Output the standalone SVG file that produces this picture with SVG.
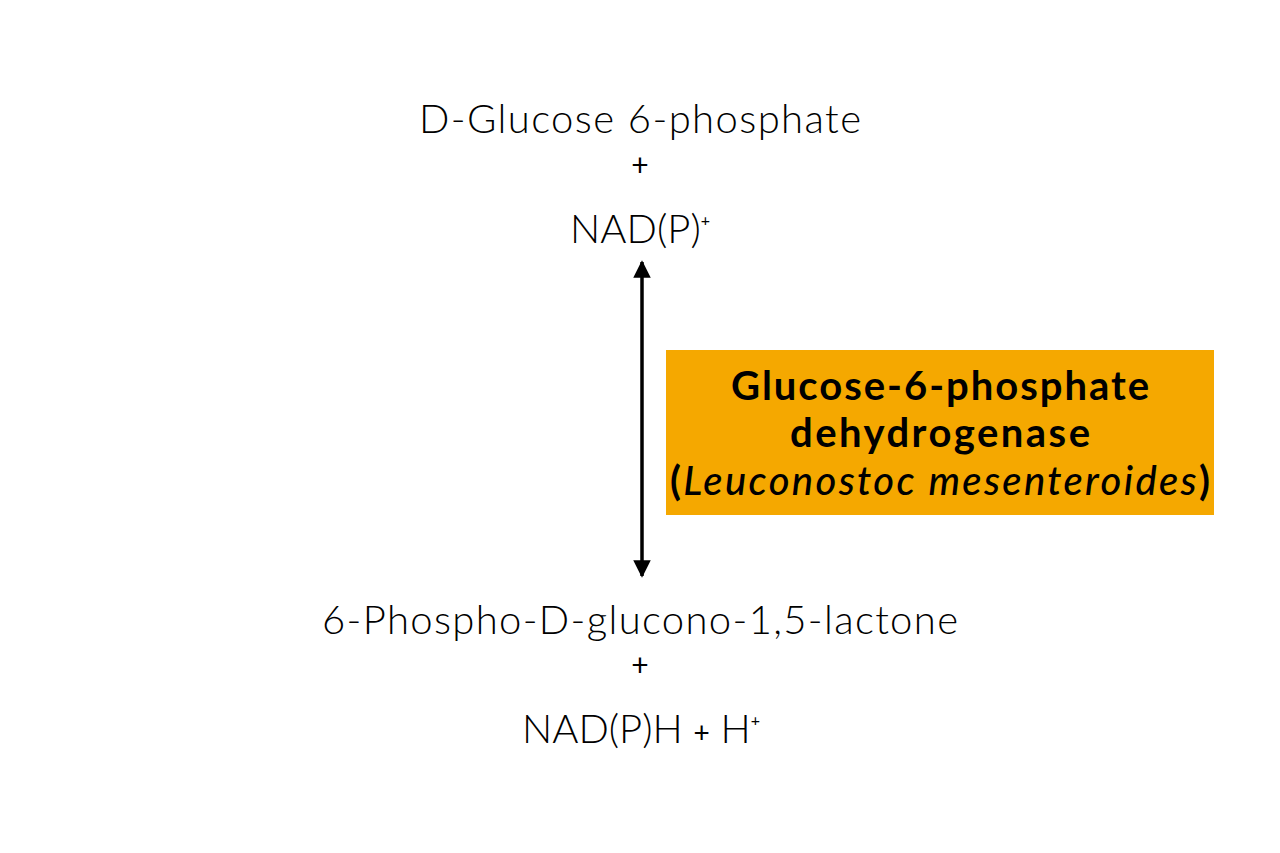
<svg xmlns="http://www.w3.org/2000/svg" width="1280" height="853" viewBox="0 0 1280 853">
<style>
.t{font-family:"Lato","Open Sans","Liberation Sans",sans-serif;font-weight:300;fill:#000;text-anchor:middle;font-size:40px}
.p{font-family:"Lato","Open Sans","Liberation Sans",sans-serif;font-weight:400;fill:#000;text-anchor:middle;font-size:30px}
.b{font-family:"Lato","Open Sans","Liberation Sans",sans-serif;font-weight:700;fill:#000;text-anchor:middle;font-size:40px}
</style>
<defs>
<marker id="ah" viewBox="0 0 10 10" refX="9" refY="5" markerWidth="5" markerHeight="5" orient="auto-start-reverse" markerUnits="strokeWidth">
<path d="M0,0 L10,5 L0,10 z" fill="#000"/>
</marker>
</defs>
<rect width="1280" height="853" fill="#fff"/>
<g id="substrate">
<text class="t" x="640" y="133" textLength="442" lengthAdjust="spacing">D-Glucose 6-phosphate</text>
<text class="p" x="640" y="176">+</text>
<text class="t" x="640" y="243" textLength="140" lengthAdjust="spacing">NAD(P)<tspan font-size="16" font-weight="400" dy="-17">+</tspan></text>
</g>
<g id="connectors">
<line x1="642" y1="262" x2="642" y2="576" stroke="#000" stroke-width="3.5" marker-start="url(#ah)" marker-end="url(#ah)"/>
</g>
<g id="enzyme">
<rect x="666" y="350" width="548" height="165" fill="#F5A800"/>
<text class="b" x="940" y="400" textLength="418" lengthAdjust="spacing">Glucose-6-phosphate</text>
<text class="b" x="940" y="447" textLength="300" lengthAdjust="spacing">dehydrogenase</text>
<text class="b" x="940" y="495" textLength="540" lengthAdjust="spacing">(<tspan font-style="italic" font-weight="500">Leuconostoc mesenteroides</tspan>)</text>
</g>
<g id="product">
<text class="t" x="640" y="634" textLength="636" lengthAdjust="spacing">6-Phospho-D-glucono-1,5-lactone</text>
<text class="p" x="640" y="676">+</text>
<text class="t" x="641" y="743" textLength="238" lengthAdjust="spacing">NAD(P)H <tspan font-size="28" font-weight="400">+</tspan> H<tspan font-size="16" font-weight="400" dy="-17">+</tspan></text>
</g>
</svg>
